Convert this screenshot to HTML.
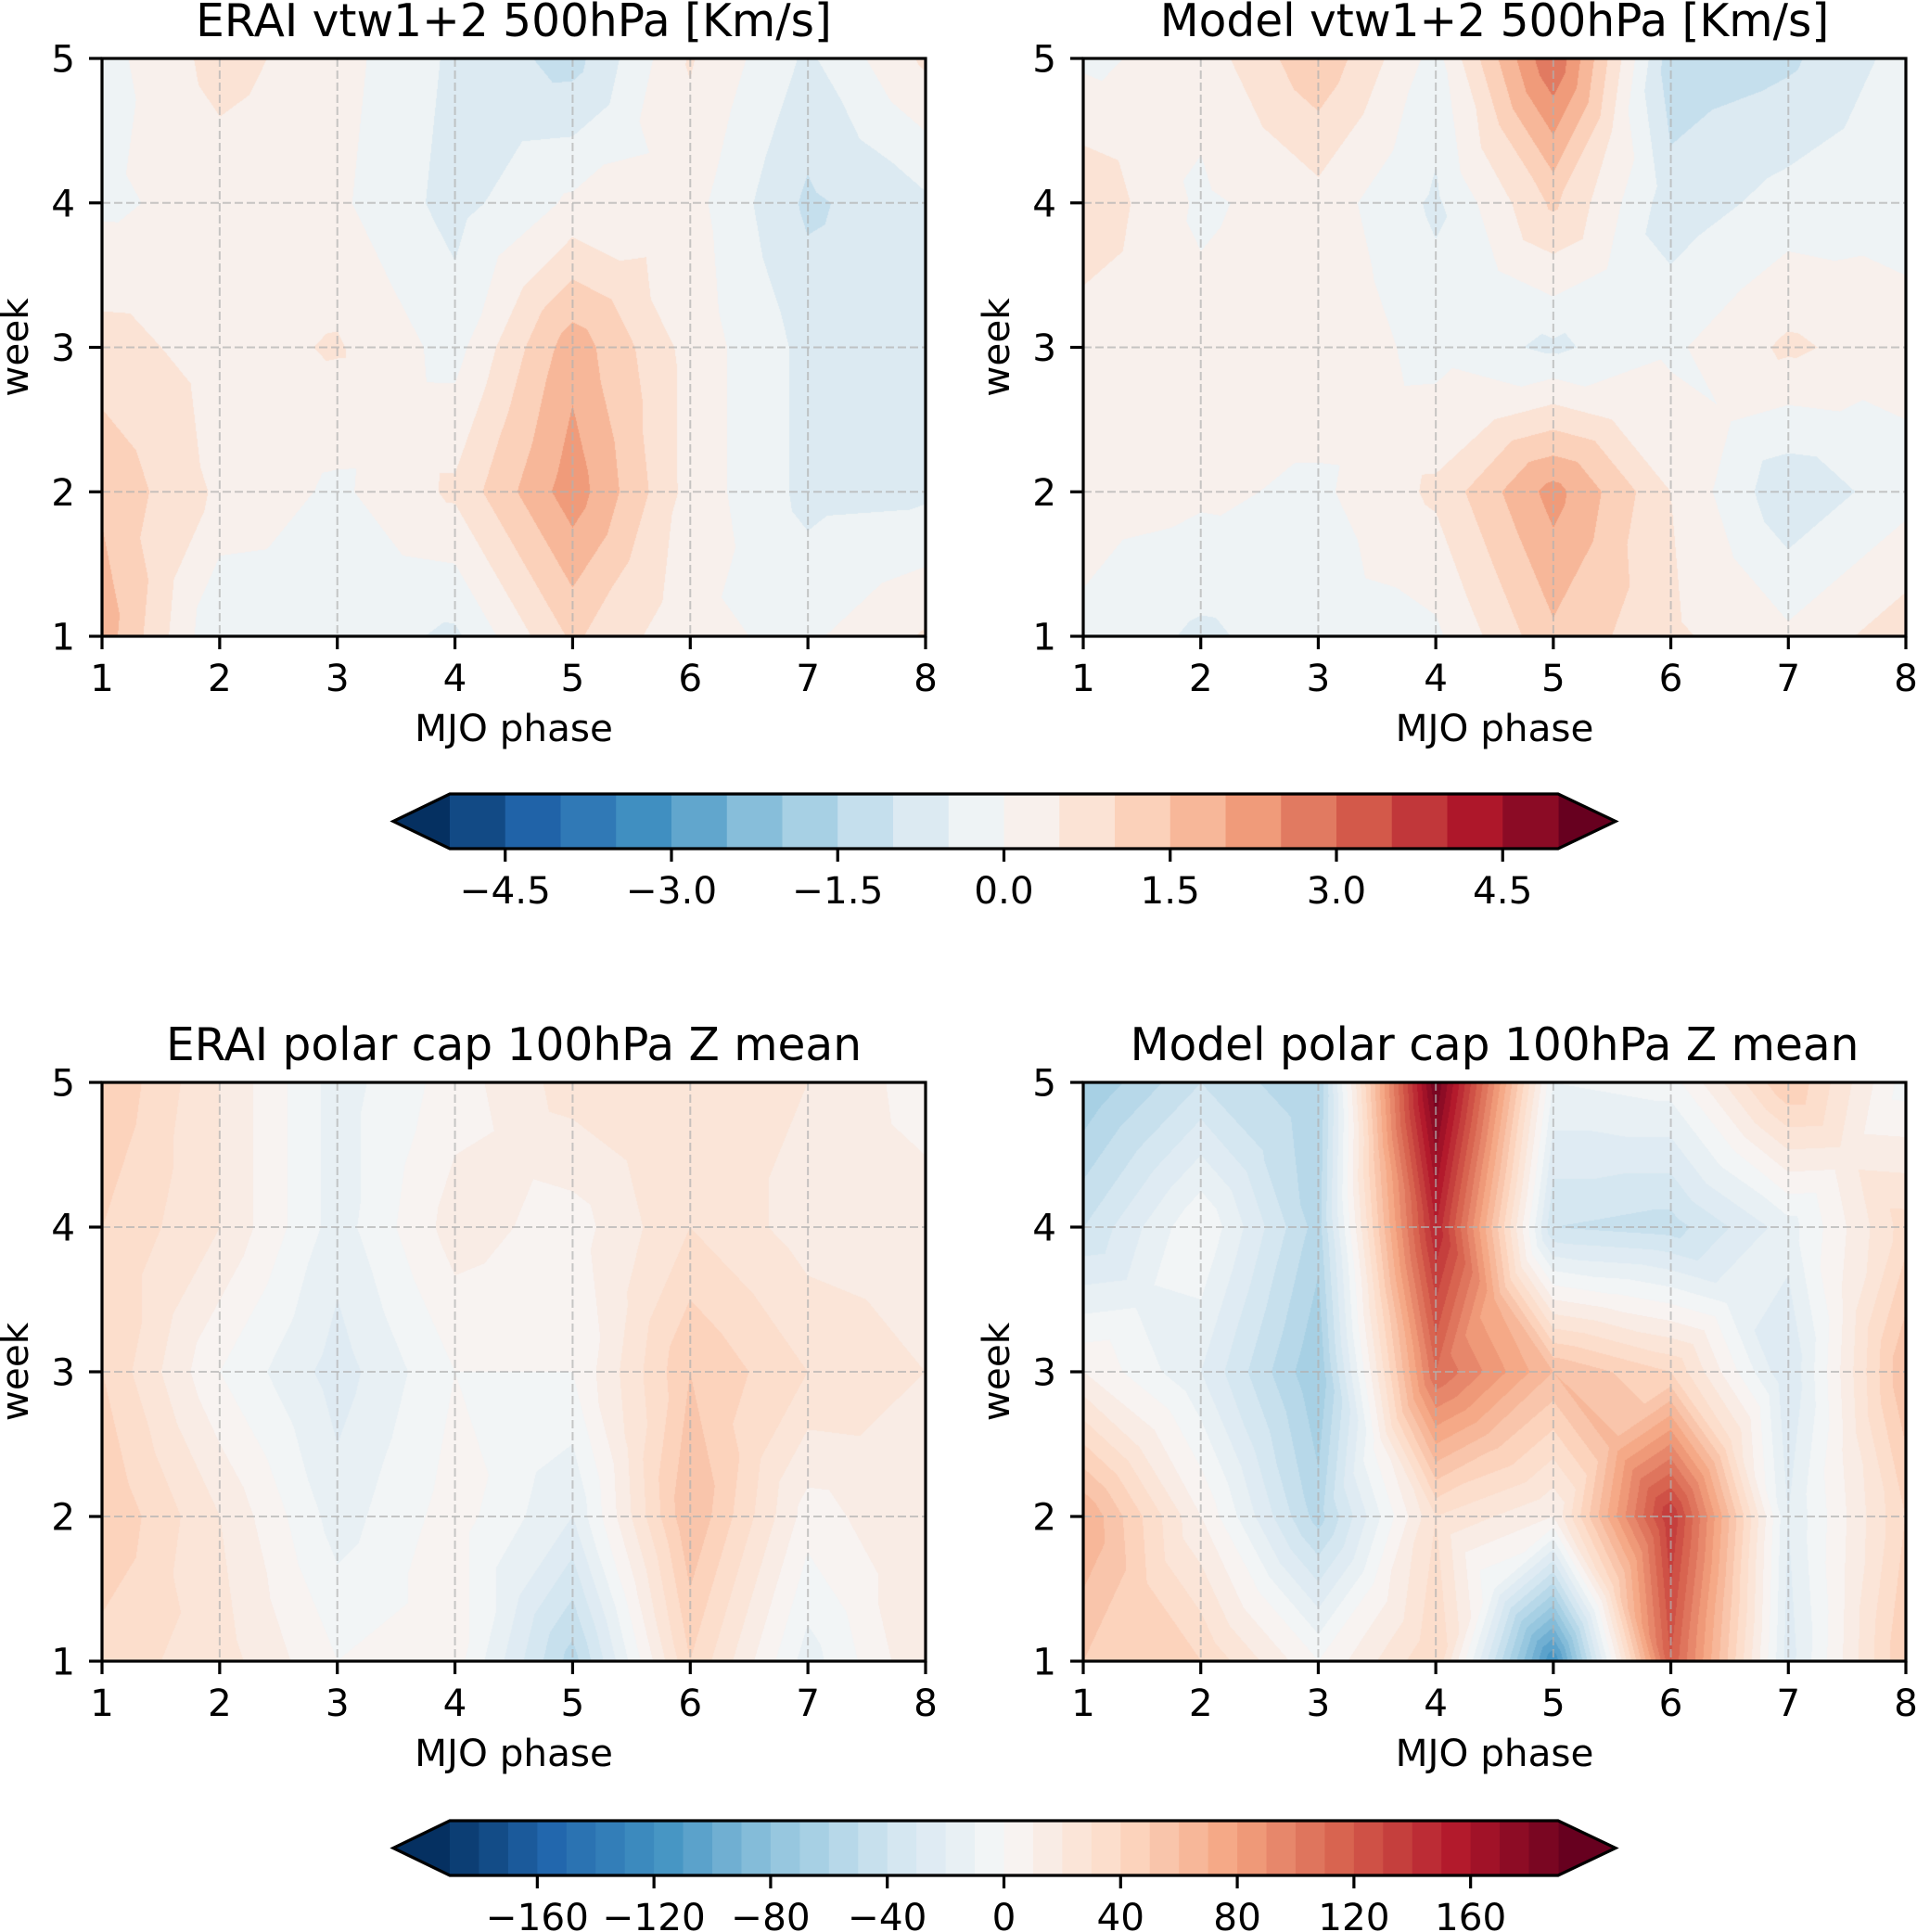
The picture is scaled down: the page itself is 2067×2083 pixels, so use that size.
<!DOCTYPE html>
<html><head><meta charset="utf-8">
<style>
html,body{margin:0;padding:0;background:#fff;}
#wrap{position:relative;width:2067px;height:2083px;overflow:hidden;font-family:"DejaVu Sans","Liberation Sans",sans-serif;}
canvas{position:absolute;}
svg{position:absolute;left:0;top:0;}
</style></head>
<body>
<div id="wrap">
<canvas id="c1"></canvas>
<canvas id="c2"></canvas>
<canvas id="c3"></canvas>
<canvas id="c4"></canvas>
<svg id="ov" width="2067" height="2083"></svg>
</div>
<script>
// ---- data (rows = week 1..5, columns = MJO phase 1..8) ----
const phases = [1,2,3,4,5,6,7,8];
const weeks = [1,2,3,4,5];
const vtwERAI = [
  [1.8,-0.5,-0.2,-0.6,1.1,0.1,-0.1,0.55],
  [1.4,0.4,-0.1,0.6,2.3,0.3,-0.65,-0.6],
  [0.7,0.3,0.55,-0.2,1.8,0.3,-0.65,-0.7],
  [-0.1,0.2,0.1,-0.7,0.1,0.2,-1.1,-0.6],
  [-0.2,0.7,0.2,-0.6,-1.2,0.55,-0.6,0.6]
];
const vtwModel = [
  [-0.1,-0.6,-0.2,-0.1,1.4,0.6,0.1,0.8],
  [0.2,0.1,-0.1,0.6,2.2,0.5,-0.9,-0.2],
  [0.2,0.2,0.4,-0.2,-0.6,-0.1,0.6,0.2],
  [0.9,-0.1,0.3,-0.6,1.1,-0.8,-0.3,-0.2],
  [-0.1,0.2,1.4,-0.2,3.0,-1.3,-1.1,-0.3]
];
const zERAI = [
  [35,25,0,5,-55,40,-15,20],
  [50,20,-15,5,-20,60,5,20],
  [40,0,-25,0,0,50,30,20],
  [40,20,-15,15,5,30,15,15],
  [50,20,-15,5,25,25,20,5]
];
const zModel = [
  [50,40,0,40,-120,120,-25,50],
  [70,10,-55,30,10,140,-20,40],
  [10,-20,-70,110,60,40,-30,60],
  [-40,0,-55,150,-40,-45,-15,35],
  [-70,-40,-60,190,-10,-5,50,-5]
];
const vtwLevels = {min:-5, max:5, step:0.5};
const zLevels = {min:-190, max:190, step:10};
const vtwTicks = [-4.5,-3.0,-1.5,0.0,1.5,3.0,4.5];
const vtwTickLabels = ["\u22124.5","\u22123.0","\u22121.5","0.0","1.5","3.0","4.5"];
const zTicks = [-160,-120,-80,-40,0,40,80,120,160];
const zTickLabels = ["\u2212160","\u2212120","\u221280","\u221240","0","40","80","120","160"];

// ---- colormap RdBu_r ----
const rdbu = ["#053061","#2166ac","#4393c3","#92c5de","#d1e5f0","#f7f7f7","#fddbc7","#f4a582","#d6604d","#b2182b","#67001f"];
function hex(h){return [parseInt(h.substr(1,2),16),parseInt(h.substr(3,2),16),parseInt(h.substr(5,2),16)];}
const rdbuRGB = rdbu.map(hex);
function cmap(t){
  t=Math.max(0,Math.min(1,t));
  const f=t*10, i=Math.min(9,Math.floor(f)), u=f-i;
  const a=rdbuRGB[i], b=rdbuRGB[i+1];
  return [0,1,2].map(k=>Math.round(a[k]+(b[k]-a[k])*u));
}
function binColors(L){
  const n=Math.round((L.max-L.min)/L.step);
  const arr=[];
  for(let i=0;i<n;i++) arr.push(cmap((i+1)/(n+1)));
  return {n:n, bins:arr, lo:cmap(0), hi:cmap(1)};
}
function colorFor(v,L,C){
  if(v<L.min) return C.lo;
  if(v>=L.max) return C.hi;
  let i=Math.floor((v-L.min)/L.step);
  i=Math.max(0,Math.min(C.n-1,i));
  return C.bins[i];
}
const rgbStr=c=>"rgb("+c[0]+","+c[1]+","+c[2]+")";

// ---- layout ----
const panels = [
  {id:"c1", data:vtwERAI, L:vtwLevels, x:110, y:63, w:888, h:623, title:"ERAI vtw1+2 500hPa [Km/s]", name:"erai-vtw"},
  {id:"c2", data:vtwModel, L:vtwLevels, x:1168, y:63, w:887, h:623, title:"Model vtw1+2 500hPa [Km/s]", name:"model-vtw"},
  {id:"c3", data:zERAI, L:zLevels, x:110, y:1167, w:888, h:624, title:"ERAI polar cap 100hPa Z mean", name:"erai-polar-cap"},
  {id:"c4", data:zModel, L:zLevels, x:1168, y:1167, w:887, h:624, title:"Model polar cap 100hPa Z mean", name:"model-polar-cap"}
];
const NS="http://www.w3.org/2000/svg";
const ov=document.getElementById("ov");
function mk(tag,attrs,parent){const e=document.createElementNS(NS,tag);for(const k in attrs)e.setAttribute(k,attrs[k]);(parent||ov).appendChild(e);return e;}

function valueAt(data,px,py){
  let i=Math.min(phases.length-2,Math.floor(px)), j=Math.min(weeks.length-2,Math.floor(py));
  const u=px-i, v=py-j;
  const a=data[j][i], b=data[j][i+1], c=data[j+1][i+1], d=data[j+1][i];
  const m=(a+b+c+d)/4;
  const du=u-0.5, dv=v-0.5;
  if(Math.abs(du)>=Math.abs(dv)){
    if(du<0){ const s=1-2*u; return m+s*(((a+d)/2)-m)+dv*(d-a); }
    else { const s=2*u-1; return m+s*(((b+c)/2)-m)+dv*(c-b); }
  } else {
    if(dv<0){ const s=1-2*v; return m+s*(((a+b)/2)-m)+du*(b-a); }
    else { const s=2*v-1; return m+s*(((d+c)/2)-m)+du*(c-d); }
  }
}

panels.forEach(p=>{
  const C=binColors(p.L);
  const cv=document.getElementById(p.id);
  cv.width=p.w; cv.height=p.h;
  cv.style.left=p.x+"px"; cv.style.top=p.y+"px";
  const ctx=cv.getContext("2d");
  const img=ctx.createImageData(p.w,p.h);
  const nx=phases.length-1, ny=weeks.length-1;
  for(let yy=0;yy<p.h;yy++){
    const py=(p.h-1-yy)/(p.h-1)*ny;
    for(let xx=0;xx<p.w;xx++){
      const px=xx/(p.w-1)*nx;
      const col=colorFor(valueAt(p.data,px,py),p.L,C);
      const k=(yy*p.w+xx)*4;
      img.data[k]=col[0];img.data[k+1]=col[1];img.data[k+2]=col[2];img.data[k+3]=255;
    }
  }
  ctx.putImageData(img,0,0);

  const g=mk("g",{});
  
  
  const xs=v=>p.x+(v-phases[0])/(phases[phases.length-1]-phases[0])*p.w;
  const ys=v=>p.y+p.h-(v-weeks[0])/(weeks[weeks.length-1]-weeks[0])*p.h;
  phases.forEach(v=>{const l=mk("line",{x1:xs(v),x2:xs(v),y1:p.y,y2:p.y+p.h,stroke:"#b0b0b0","stroke-width":2,"stroke-dasharray":"9 4","stroke-opacity":0.7},g);
    });
  weeks.forEach(v=>{const l=mk("line",{x1:p.x,x2:p.x+p.w,y1:ys(v),y2:ys(v),stroke:"#b0b0b0","stroke-width":2,"stroke-dasharray":"9 4","stroke-opacity":0.7},g);
    });
  const r=mk("rect",{x:p.x,y:p.y,width:p.w,height:p.h,fill:"none",stroke:"#000","stroke-width":3.2},g);
  
  phases.forEach(v=>{
    mk("line",{x1:xs(v),x2:xs(v),y1:p.y+p.h,y2:p.y+p.h+14,stroke:"#000","stroke-width":3.2},g);
    const t=mk("text",{x:xs(v),y:p.y+p.h+59,"text-anchor":"middle","font-size":40.5,fill:"#000"},g);
    t.textContent=v;
    
  });
  weeks.forEach(v=>{
    mk("line",{x1:p.x-14,x2:p.x,y1:ys(v),y2:ys(v),stroke:"#000","stroke-width":3.2},g);
    const t=mk("text",{x:p.x-29,y:ys(v)+14.5,"text-anchor":"end","font-size":40.5,fill:"#000"},g);
    t.textContent=v;
    
  });
  const xl=mk("text",{x:p.x+p.w/2,y:p.y+p.h+113,"text-anchor":"middle","font-size":40.5,fill:"#000"},g);
  xl.textContent="MJO phase";
  
  const yx=p.x-80, yy=p.y+p.h/2;
  const yl=mk("text",{x:yx,y:yy,"text-anchor":"middle","font-size":40.5,fill:"#000",transform:"rotate(-90 "+yx+" "+yy+")"},g);
  yl.textContent="week";
  
  const tt=mk("text",{x:p.x+p.w/2,y:p.y-24,"text-anchor":"middle","font-size":48.6,fill:"#000"},g);
  tt.textContent=p.title;
  
});

function colorbar(L,ticks,labels,y,h,name){
  const C=binColors(L);
  const x0=485,x1=1680,tl=424,tr=1742;
  const g=mk("g",{});
  
  
  const xs=v=>x0+(v-L.min)/(L.max-L.min)*(x1-x0);
  mk("polygon",{points:x0+","+y+" "+tl+","+(y+h/2)+" "+x0+","+(y+h),fill:rgbStr(C.lo)},g);
  mk("polygon",{points:x1+","+y+" "+tr+","+(y+h/2)+" "+x1+","+(y+h),fill:rgbStr(C.hi)},g);
  for(let i=0;i<C.n;i++){
    const a=L.min+i*L.step, b=a+L.step;
    const r=mk("rect",{x:xs(a),y:y,width:xs(b)-xs(a)+0.6,height:h,fill:rgbStr(C.bins[i])},g);
    
  }
  mk("polygon",{points:x0+","+y+" "+x1+","+y+" "+tr+","+(y+h/2)+" "+x1+","+(y+h)+" "+x0+","+(y+h)+" "+tl+","+(y+h/2),fill:"none",stroke:"#000","stroke-width":3.2},g);
  ticks.forEach((v,i)=>{
    mk("line",{x1:xs(v),x2:xs(v),y1:y+h,y2:y+h+14,stroke:"#000","stroke-width":3.2},g);
    const t=mk("text",{x:xs(v),y:y+h+59,"text-anchor":"middle","font-size":40.5,fill:"#000"},g);
    t.textContent=labels[i];
    
  });
}
colorbar(vtwLevels,vtwTicks,vtwTickLabels,856,59,"vtw-colorbar");
colorbar(zLevels,zTicks,zTickLabels,1963,59,"z-colorbar");
</script>
</body></html>
